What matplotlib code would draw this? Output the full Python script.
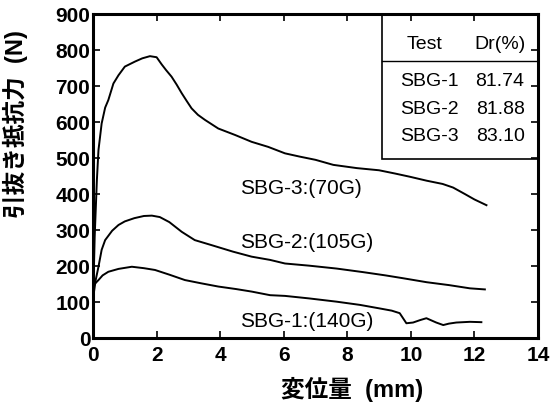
import matplotlib
matplotlib.use('Agg')
import matplotlib.pyplot as plt
import numpy as np
from matplotlib.patches import Rectangle

# pull-out curves (displacement mm, force N)
x_sbg3 = [0.0, 0.05, 0.12, 0.17, 0.27, 0.38, 0.48, 0.64, 0.8, 1.0, 1.32, 1.55, 1.79, 2.0, 2.16, 2.3, 2.47, 2.63, 2.79, 2.95, 3.1, 3.3, 3.52, 3.94, 4.47, 4.99, 5.51, 6.04, 6.5, 7.0, 7.56, 8.3, 9.0, 9.5, 9.97, 10.5, 11.0, 11.33, 11.7, 12.0, 12.38]
y_sbg3 = [100, 280, 439, 522, 596, 640, 661, 707, 730, 754, 768, 777, 783, 780, 760, 744, 726, 704, 680, 658, 638, 620, 606, 582, 564, 545, 531, 513, 504, 495, 481, 472, 466, 457, 448, 437, 428, 418, 400, 385, 369]

x_sbg2 = [0.0, 0.08, 0.17, 0.27, 0.38, 0.6, 0.8, 1.0, 1.3, 1.6, 1.85, 2.1, 2.4, 2.79, 3.2, 3.73, 4.4, 4.99, 5.57, 6.04, 6.8, 7.66, 8.5, 9.2, 9.76, 10.5, 11.2, 11.86, 12.33]
y_sbg2 = [110, 160, 198, 245, 272, 298, 314, 324, 333, 339, 340, 336, 322, 295, 272, 258, 240, 226, 217, 207, 201, 193, 183, 174, 166, 155, 147, 138, 135]

x_sbg1 = [0.0, 0.05, 0.17, 0.3, 0.48, 0.8, 1.22, 1.6, 1.95, 2.4, 2.89, 3.4, 3.94, 4.5, 4.99, 5.57, 6.04, 6.8, 7.66, 8.4, 9.03, 9.4, 9.65, 9.86, 10.07, 10.3, 10.49, 10.8, 11.02, 11.2, 11.43, 11.86, 12.22]
y_sbg1 = [140, 150, 161, 174, 184, 192, 198, 194, 189, 176, 161, 152, 143, 136, 129, 119, 117, 110, 101, 92, 82, 76, 69, 41, 43, 50, 55, 43, 36, 40, 43, 45, 44]

curve_labels = ['SBG-3:(70G)', 'SBG-2:(105G)', 'SBG-1:(140G)']
label_y = [414, 264, 45]
label_x = 4.62

table_head = ['Test', 'Dr(%)']
table_tests = ['SBG-1', 'SBG-2', 'SBG-3']
table_dr = ['81.74', '81.88', '83.10']

plt.rcParams['font.family'] = ['Liberation Sans', 'Noto Sans CJK JP', 'DejaVu Sans']

fig = plt.figure(figsize=(5.54, 4.07), dpi=100)
ax = fig.add_axes([0.168, 0.1695, 0.803, 0.796])

for xs, ys in [(x_sbg3, y_sbg3), (x_sbg2, y_sbg2), (x_sbg1, y_sbg1)]:
    ax.plot(xs, ys, color='black', lw=1.4, solid_joinstyle='round')

for lab, ly in zip(curve_labels, label_y):
    ax.text(label_x, ly, lab, fontsize=15, va='center', ha='left')

ax.set_xlim(0, 14)
ax.set_ylim(0, 900)
ax.set_xticks(np.arange(0, 15, 2))
ax.set_yticks(np.arange(0, 901, 100))
ax.tick_params(direction='in', length=5, width=1.2, top=True, right=True, labelsize=15)
ax.tick_params(axis='x', pad=6)
ax.tick_params(axis='y', pad=2)
for lbl in ax.get_xticklabels() + ax.get_yticklabels():
    lbl.set_fontweight('bold')
for sp in ax.spines.values():
    sp.set_linewidth(2.2)

fig.text(0.635, 0.042, '変位量  (mm)', fontsize=17, fontweight='bold', ha='center', va='center',
         family=['Liberation Sans', 'Noto Sans CJK JP'])
fig.text(0.027, 0.695, '引抜き抵抗力  (N)', fontsize=17, fontweight='bold', ha='center', va='center',
         rotation=90, family=['Liberation Sans', 'Noto Sans CJK JP'])

# Dr table box
ax.add_patch(Rectangle((0.649, 0.5515), 0.351, 0.4485, transform=ax.transAxes,
                       fill=False, lw=1.2, ec='black'))
ax.plot([0.649, 1.0], [0.856, 0.856], transform=ax.transAxes, color='black', lw=1.0)
ax.text(0.746, 0.905, table_head[0], transform=ax.transAxes, fontsize=14, ha='center', va='center')
ax.text(0.972, 0.905, table_head[1], transform=ax.transAxes, fontsize=14, ha='right', va='center')
row_y = [0.791, 0.704, 0.622]
for t, d, ry in zip(table_tests, table_dr, row_y):
    ax.text(0.69, ry, t, transform=ax.transAxes, fontsize=14, ha='left', va='center')
    ax.text(0.97, ry, d, transform=ax.transAxes, fontsize=14, ha='right', va='center')

fig.savefig('out.png', dpi=100)
